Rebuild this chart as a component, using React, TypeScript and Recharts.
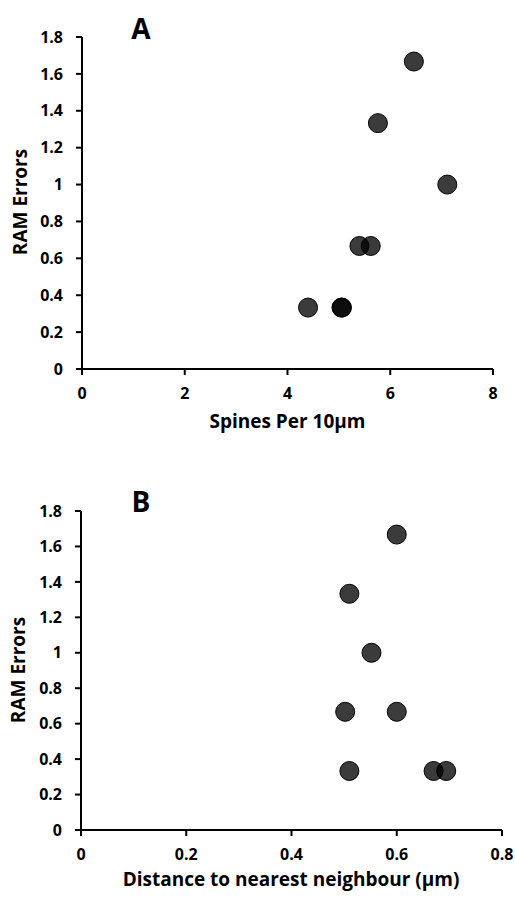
import React from "react";
import { ScatterChart, Scatter, XAxis, YAxis } from "recharts";

// panel A: spines per 10µm vs RAM errors
const spinesX = [6.46, 5.76, 7.11, 5.4, 5.62, 4.4, 5.05, 5.06];
const spinesErrors = [1.667, 1.333, 1.0, 0.667, 0.667, 0.333, 0.333, 0.333];

// panel B: distance to nearest neighbour vs RAM errors
const distanceX = [0.6, 0.51, 0.552, 0.502, 0.6, 0.51, 0.67, 0.694];
const distanceErrors = [1.667, 1.333, 1.0, 0.667, 0.667, 0.333, 0.333, 0.333];

const errorTicks = [0, 0.2, 0.4, 0.6, 0.8, 1, 1.2, 1.4, 1.6, 1.8];
const spinesTicks = [0, 2, 4, 6, 8];
const distanceTicks = [0, 0.2, 0.4, 0.6, 0.8];

const FONT = "'Open Sans', sans-serif";
const tickStyle = { fill: "#000", fontSize: 16, fontWeight: 700, fontFamily: FONT };
const axisLine = { stroke: "#000", strokeWidth: 2 };
const tickLine = { stroke: "#000", strokeWidth: 2 };

const Dot = (props: any) => {
  const { cx, cy } = props;
  return (
    <circle cx={cx} cy={cy} r={9.5} fill="#000" fillOpacity={0.77} stroke="#000" strokeWidth={1} />
  );
};

const toPoints = (xs: number[], ys: number[]) => xs.map((x, i) => ({ x, y: ys[i] }));

interface PanelProps {
  data: { x: number; y: number }[];
  xTicks: number[];
  xMax: number;
  width: number;
  height: number;
  margin: { top: number; right: number; bottom: number; left: number };
}

function Panel({ data, xTicks, xMax, width, height, margin }: PanelProps) {
  return (
    <ScatterChart width={width} height={height} margin={margin}>
      <XAxis
        type="number"
        dataKey="x"
        domain={[0, xMax]}
        ticks={xTicks}
        tick={tickStyle}
        axisLine={axisLine}
        tickLine={tickLine}
        tickSize={6}
        tickMargin={13}
        height={30}
        interval={0}
        allowDataOverflow
      />
      <YAxis
        type="number"
        dataKey="y"
        domain={[0, 1.8]}
        ticks={errorTicks}
        tick={tickStyle}
        axisLine={axisLine}
        tickLine={tickLine}
        tickSize={6}
        tickMargin={13}
        width={60}
        interval={0}
      />
      <Scatter data={data} shape={<Dot />} isAnimationActive={false} />
    </ScatterChart>
  );
}

const abs = (top: number, left: number): React.CSSProperties => ({
  position: "absolute",
  top,
  left,
  fontFamily: FONT,
  fontWeight: 700,
  color: "#000",
  whiteSpace: "nowrap",
  lineHeight: 1,
});

export default function App() {
  return (
    <div style={{ position: "absolute", top: 0, left: 0, width: 515, height: 897, background: "#fff" }}>
      <div style={{ position: "absolute", top: 0, left: 0 }}>
        <Panel
          data={toPoints(spinesX, spinesErrors)}
          xTicks={spinesTicks}
          xMax={8}
          width={515}
          height={450}
          margin={{ top: 37, right: 22, bottom: 51, left: 22 }}
        />
      </div>
      <div style={{ position: "absolute", top: 460, left: 0 }}>
        <Panel
          data={toPoints(distanceX, distanceErrors)}
          xTicks={distanceTicks}
          xMax={0.8}
          width={515}
          height={437}
          margin={{ top: 51, right: 13, bottom: 37, left: 21 }}
        />
      </div>

      {/* panel letters */}
      <div style={{ ...abs(14, 121), width: 40, textAlign: "center", fontSize: 28 }}>A</div>
      <div style={{ ...abs(487, 121), width: 40, textAlign: "center", fontSize: 28 }}>B</div>

      {/* axis titles */}
      <div style={{ ...abs(412, 0), width: 575, textAlign: "center", fontSize: 19 }}>
        Spines Per 10µm
      </div>
      <div style={{ ...abs(870, 0), width: 582, textAlign: "center", fontSize: 19 }}>
        Distance to nearest neighbour (µm)
      </div>
      <div
        style={{
          ...abs(202, 20),
          fontSize: 19,
          transform: "translate(-50%, -50%) rotate(-90deg)",
        }}
      >
        RAM Errors
      </div>
      <div
        style={{
          ...abs(670, 18),
          fontSize: 19,
          transform: "translate(-50%, -50%) rotate(-90deg)",
        }}
      >
        RAM Errors
      </div>
    </div>
  );
}
